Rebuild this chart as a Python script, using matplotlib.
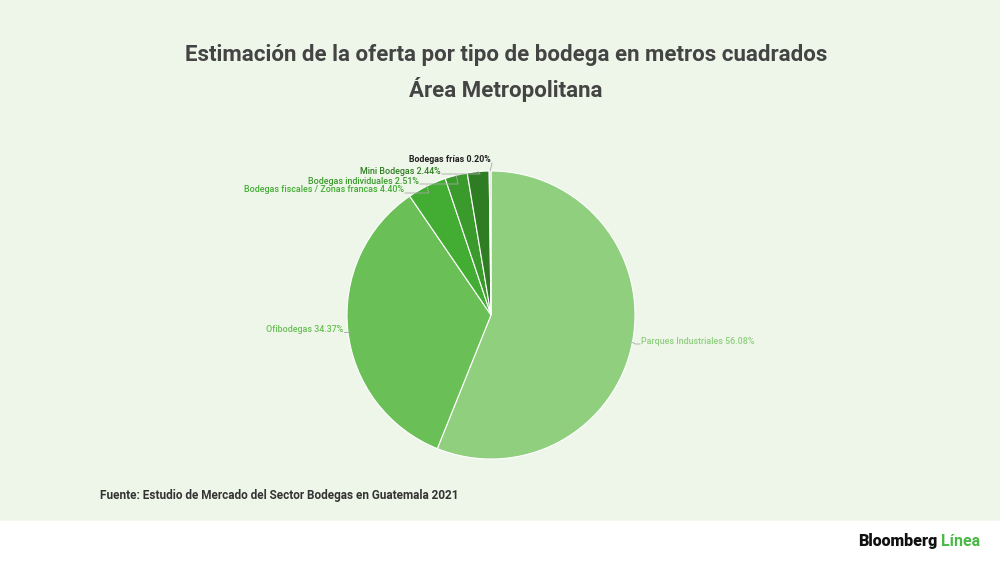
import numpy as np
from matplotlib import pyplot as plt

plt.rcParams['font.family'] = ['Roboto', 'DejaVu Sans']

# data
categories = ["Parques Industriales", "Ofibodegas", "Bodegas fiscales / Zonas francas",
              "Bodegas individuales", "Mini Bodegas", "Bodegas frías"]
shares = [56.08, 34.37, 4.40, 2.51, 2.44, 0.20]
colors = ["#8fcf7e", "#6abf56", "#43ad33", "#3a9a2c", "#2f7d22", "#d0d0d0"]
label_colors = ["#8fcf7e", "#6abf56", "#43ad33", "#3a9a2c", "#2f7d22", "#222222"]

title = "Estimación de la oferta por tipo de bodega en metros cuadrados\nÁrea Metropolitana"
source = "Fuente: Estudio de Mercado del Sector Bodegas en Guatemala 2021"

H = 562
fig = plt.figure(figsize=(10, 5.62), dpi=100)
fig.patch.set_facecolor("#eef6e9")
ax = fig.add_axes([0, 0, 1, 1])

# white footer band
ax.add_patch(plt.Rectangle((0, 0), 1000, H - 521, color="white", zorder=0))

cx, cy, r = 491, H - 315, 144
wedges, _ = ax.pie(shares, colors=colors, startangle=90, counterclock=False,
                   center=(cx, cy), radius=r, frame=True,
                   wedgeprops=dict(edgecolor="white", linewidth=0.8))
ax.set_xlim(0, 1000)
ax.set_ylim(0, H)
ax.set_aspect("equal")
ax.axis("off")

# label text positions (pixel coords: text anchor x, y, alignment)
label_pos = [(641, 341, "left"), (343, 329, "right"), (404, 190, "right"),
             (419, 181, "right"), (441, 171, "right"), (491, 160, "right")]

for w, name, val, col, (tx, ty, ha) in zip(wedges, categories, shares, label_colors, label_pos):
    ang = np.deg2rad((w.theta1 + w.theta2) / 2)
    px, py = cx + r * np.cos(ang), cy + r * np.sin(ang)
    ty = H - ty
    txt = f"{name} {val:.2f}%"
    ax.text(tx, ty, txt, ha=ha, va="center", fontsize=6.4, color=col,
            fontweight="bold" if name == "Bodegas frías" else "medium")
    lc = "#a8a8a8"
    if ha == "left":
        ax.plot([px, px + 3, tx - 1], [py, ty - 3, ty - 3], color=lc, lw=0.6)
    elif name == "Ofibodegas":
        ax.plot([tx + 1, px], [ty - 3, ty - 3], color=lc, lw=0.6)
    else:
        ex = px + 2
        ax.plot([tx + 1, ex, px], [ty - 3, ty - 3, py], color=lc, lw=0.6)

fig.text(0.506, 1 - 73 / H, title, ha="center", va="center", fontsize=16,
         fontweight="bold", color="#444444", linespacing=1.5)
fig.text(0.1, 1 - 495 / H, source, ha="left", va="center", fontsize=8.5,
         fontweight="bold", color="#333333")

t1 = fig.text(0.858, 1 - 541 / H, "Bloomberg", ha="left", va="center", fontsize=11.5,
              fontweight="black", color="#111111")
fig.canvas.draw()
bb = t1.get_window_extent()
fig.text((bb.x1 + 4) / 1000, 1 - 541 / H, "Línea", ha="left", va="center", fontsize=11.5,
         fontweight="bold", color="#4cb848")

fig.savefig("out.png", dpi=100, facecolor=fig.get_facecolor())
